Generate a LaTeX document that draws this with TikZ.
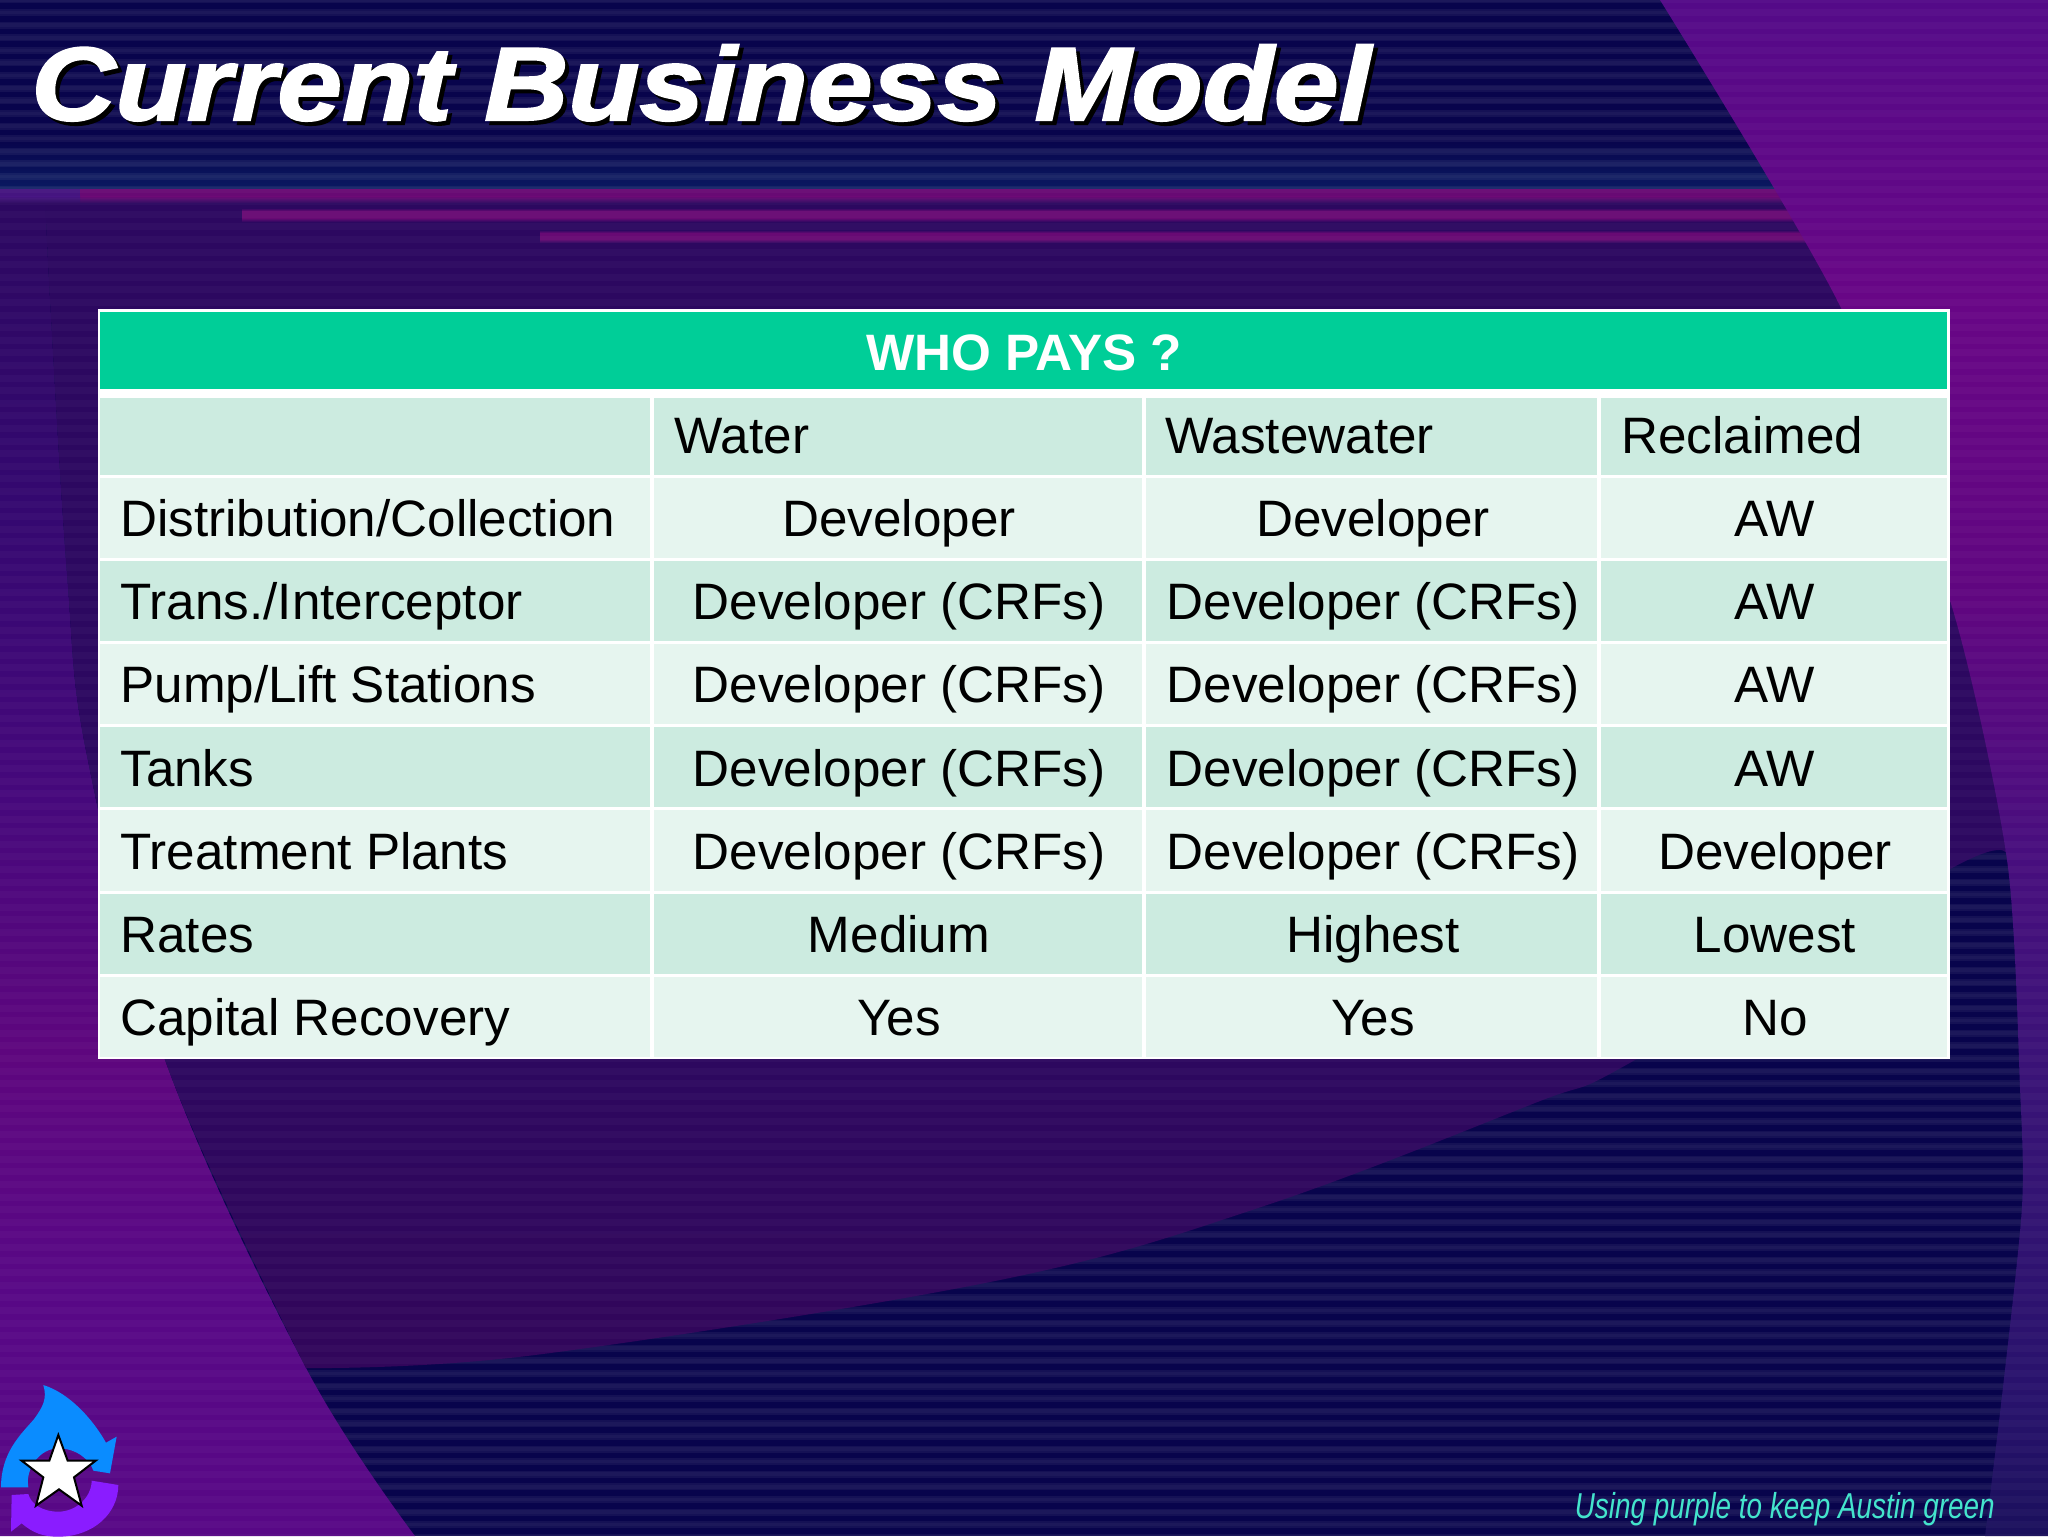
\documentclass[tikz,border=0pt]{standalone}
\usepackage{fontspec}
\setmainfont{Liberation Sans}
\newfontfamily\titlefont[FakeStretch=1.12,FakeBold=2]{Liberation Sans}
\newfontfamily\footfont[FakeStretch=0.774]{Liberation Sans}
\definecolor{navy}{HTML}{08044C}
\definecolor{navyblue}{HTML}{0A1A62}
\definecolor{dusk}{HTML}{2C0860}
\definecolor{duskred}{HTML}{32065A}
\definecolor{streak}{HTML}{680A74}
\definecolor{streakdim}{HTML}{451580}
\definecolor{plumA}{HTML}{540A88}
\definecolor{plumB}{HTML}{680686}
\definecolor{plumC}{HTML}{600680}
\definecolor{plumD}{HTML}{480E7E}
\definecolor{plumE}{HTML}{381376}
\definecolor{plumF}{HTML}{28126C}
\definecolor{plumG}{HTML}{1A105C}
\definecolor{leftA}{HTML}{2C0860}
\definecolor{leftB}{HTML}{340870}
\definecolor{leftC}{HTML}{46087C}
\definecolor{leftD}{HTML}{5E067E}
\definecolor{leftE}{HTML}{580886}
\definecolor{headgreen}{HTML}{00CE98}
\definecolor{rowdark}{HTML}{CCEBE0}
\definecolor{rowlight}{HTML}{E6F5EF}
\definecolor{footcol}{HTML}{44E4CC}
\definecolor{dropblue}{HTML}{0A8CFF}
\definecolor{dropviolet}{HTML}{8A1CFF}
\newcommand{\vband}[4]{\shade[top color=#3,bottom color=#4] (0,#1) rectangle (2048,#2);}
% soft-edged horizontal streak: x-start, top, bottom
\newcommand{\softstreak}[3]{%
  \shade[top color=dusk,bottom color=streak] (#1,#2-3) rectangle (1810,#2);
  \fill[streak] (#1,#2-0.3) rectangle (1810,#3+0.3);
  \shade[top color=streak,bottom color=dusk] (#1,#3) rectangle (1810,#3+4);}
\tikzset{
  x=0.5pt,y=-0.5pt,
  celltext/.style={font=\fontsize{25.6}{30}\selectfont,text=black,inner sep=0pt,anchor=base},
  lefttext/.style={celltext,anchor=base west},
  darkcell/.style={fill=rowdark},
  lightcell/.style={fill=rowlight},
}
\begin{document}
\begin{tikzpicture}
\useasboundingbox (0,0) rectangle (2048,1536);
% background
\fill[navy] (0,0) rectangle (2048,1536);
\shade[top color=navy,bottom color=navyblue] (0,140) rectangle (2048,190);
% strong scan lines on the navy ground
\foreach \k in {0,...,122}{
  \pgfmathsetmacro{\yy}{\k*12.6}
  \draw[white,opacity=.03,line width=3.5pt] (0,\yy) -- (2048,\yy);
  \draw[white,opacity=.03,line width=1.8pt] (0,\yy) -- (2048,\yy);
}
% left band
\begin{scope}
\clip plot[smooth,tension=.6] coordinates {(45,190) (50,300) (67,574) (87,756) (165,1060) (306,1368) (415,1536)} -- (0,1536) -- (0,190) -- cycle;
\vband{190}{501}{leftA}{leftB}
\vband{500}{801}{leftB}{leftC}
\vband{800}{1051}{leftC}{leftD}
\vband{1050}{1301}{leftD}{leftE}
\vband{1300}{1536}{leftE}{leftE}
\end{scope}
% middle dark area
\begin{scope}
\clip plot[smooth,tension=.6] coordinates {(45,190) (50,300) (67,574) (87,756) (165,1060) (306,1368)}
  -- plot[smooth,tension=.6] coordinates {(306,1368) (535,1355) (1000,1280) (1267,1205) (1535,1103) (1635,1060) (1952,868) (2007,858)}
  -- (2030,858) -- (2030,190) -- cycle;
\vband{190}{1001}{dusk}{dusk}
\vband{1000}{1400}{dusk}{duskred}
\end{scope}
% streaks
\fill[streak] (80,189) rectangle (1810,197);
\shade[top color=streak,bottom color=dusk] (80,196.7) rectangle (1810,203);
\fill[streakdim] (0,189) rectangle (80,197);
\shade[top color=streakdim,bottom color=dusk] (0,196.7) rectangle (80,203);
\softstreak{242}{211}{218}
\softstreak{540}{233}{239}
% right purple region
\begin{scope}
\clip plot[smooth,tension=.45] coordinates {(1660,0) (1842,310) (1952,607) (2007,860) (2020,1088) (2022,1206) (2003,1387) (1985,1536)} -- (2048,1536) -- (2048,0) -- cycle;
\vband{0}{301}{plumA}{plumB}
\vband{300}{601}{plumB}{plumC}
\vband{600}{851}{plumC}{plumD}
\vband{850}{1101}{plumD}{plumE}
\vband{1100}{1401}{plumE}{plumF}
\vband{1400}{1536}{plumF}{plumG}
\end{scope}
% weak scan lines across everything
\foreach \k in {0,...,122}{
  \pgfmathsetmacro{\yy}{\k*12.6}
  \draw[white,opacity=.028,line width=3.5pt] (0,\yy) -- (2048,\yy);
}
% logo
\begin{scope}[shift={(0,1340)},scale=0.3333]
\fill[dropblue] (130,135) .. controls (142,175) and (130,200) .. (100,240)
  .. controls (60,285) and (3,340) .. (3,442) -- (85,442)
  .. controls (75,385) and (120,325) .. (175,325)
  .. controls (230,325) and (270,360) .. (280,392) -- (330,400) -- (350,290) -- (318,308)
  .. controls (280,240) and (210,160) .. (130,135) -- cycle;
\fill[dropviolet] (355,435) -- (275,422)
  .. controls (275,470) and (230,515) .. (175,515)
  .. controls (125,515) and (92,490) .. (85,462) -- (35,465) -- (33,575) -- (65,550)
  .. controls (100,580) and (130,590) .. (175,590)
  .. controls (280,590) and (355,520) .. (355,435) -- cycle;
\filldraw[fill=white,draw=black,line width=1pt,line join=miter] (175,285) -- (203,362) -- (287,362) -- (222,412) -- (245,497) -- (177,448) -- (108,497) -- (130,412) -- (65,362) -- (148,362) -- cycle;
\end{scope}
% table
\fill[white] (98,309) rectangle (1950,1059);
\fill[headgreen] (100,312) rectangle (1947,389);
\foreach \ya/\yb/\st in {397.5/475/darkcell,477.5/557.5/lightcell,560.5/640.5/darkcell,643.5/724/lightcell,727/807/darkcell,810/890.5/lightcell,893.5/973.5/darkcell,976.5/1057/lightcell}{
  \foreach \xa/\xb in {100/650,654/1142,1146/1597,1601/1947}{
    \fill[\st] (\xa,\ya) rectangle (\xb,\yb);
  }
}
\node[font=\fontsize{25.6}{30}\selectfont\bfseries,text=white,inner sep=0pt,anchor=base] (head) at (1024,370) {WHO PAYS ?};
\node[lefttext] (water) at (674,453) {Water};
\node[lefttext] (waste) at (1165,453) {Wastewater};
\node[lefttext] (recl) at (1621,453) {Reclaimed};
\node[lefttext] (r1) at (120,536.3) {Distribution/Collection};
\node[celltext] (r1a) at (899,536.3) {Developer};
\node[celltext] (r1b) at (1373,536.3) {Developer};
\node[celltext] (r1c) at (1775,536.3) {AW};
\node[lefttext] (r2) at (120,619.5) {Trans./Interceptor};
\node[celltext] (r2a) at (899,619.5) {Developer (CRFs)};
\node[celltext] (r2b) at (1373,619.5) {Developer (CRFs)};
\node[celltext] (r2c) at (1775,619.5) {AW};
\node[lefttext] (r3) at (120,702.7) {Pump/Lift Stations};
\node[celltext] (r3a) at (899,702.7) {Developer (CRFs)};
\node[celltext] (r3b) at (1373,702.7) {Developer (CRFs)};
\node[celltext] (r3c) at (1775,702.7) {AW};
\node[lefttext] (r4) at (120,786) {Tanks};
\node[celltext] (r4a) at (899,786) {Developer (CRFs)};
\node[celltext] (r4b) at (1373,786) {Developer (CRFs)};
\node[celltext] (r4c) at (1775,786) {AW};
\node[lefttext] (r5) at (120,869) {Treatment Plants};
\node[celltext] (r5a) at (899,869) {Developer (CRFs)};
\node[celltext] (r5b) at (1373,869) {Developer (CRFs)};
\node[celltext] (r5c) at (1775,869) {Developer};
\node[lefttext] (r6) at (120,952) {Rates};
\node[celltext] (r6a) at (899,952) {Medium};
\node[celltext] (r6b) at (1373,952) {Highest};
\node[celltext] (r6c) at (1775,952) {Lowest};
\node[lefttext] (r7) at (120,1035) {Capital Recovery};
\node[celltext] (r7a) at (899,1035) {Yes};
\node[celltext] (r7b) at (1373,1035) {Yes};
\node[celltext] (r7c) at (1775,1035) {No};
% title
\node[font=\titlefont\fontsize{52}{60}\selectfont\bfseries\itshape,text=black,inner sep=0pt,anchor=base west] (titleshadow) at (35,124) {Current Business Model};
\node[font=\titlefont\fontsize{52}{60}\selectfont\bfseries\itshape,text=white,inner sep=0pt,anchor=base west] (title) at (31,120) {Current Business Model};
% footer
\node[font=\footfont\fontsize{18}{20}\selectfont\itshape,text=footcol,inner sep=0pt,anchor=base east] (foot) at (1995,1518) {Using purple to keep Austin green};
\end{tikzpicture}
\end{document}
